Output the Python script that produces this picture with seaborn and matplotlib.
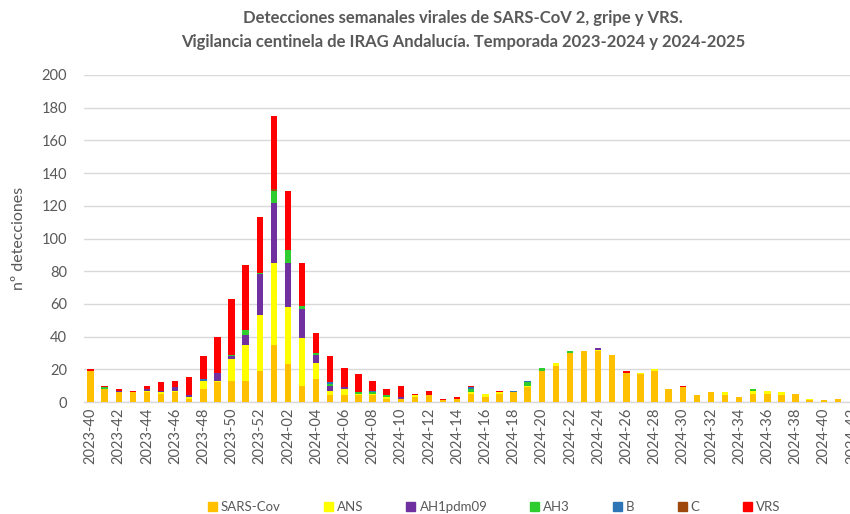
import pandas as pd
import numpy as np
import matplotlib.pyplot as plt
import seaborn as sns

# Weeks shown on the x axis (2023-40 .. 2024-42)
weeks = [f"2023-{w}" for w in range(40, 53)] + [f"2024-{w:02d}" for w in range(1, 43)]

# Weekly detections per virus
sars_cov = [19, 8, 6, 6, 6, 5, 6, 2, 8, 12, 13, 13, 19, 35, 23, 10, 14, 4, 4, 4, 4, 2, 2, 3, 4, 1, 2, 5,
            3, 5, 6, 9, 19, 22, 30, 31, 31, 29, 18, 17, 19, 8, 9, 4, 6, 4, 3, 5, 5, 4, 5, 1, 1, 2, 0]
ans = [0, 0, 0, 0, 1, 1, 1, 1, 5, 1, 13, 22, 34, 50, 35, 29, 10, 3, 4, 1, 1, 1, 0, 1, 0, 0, 0, 1,
       2, 1, 0, 1, 0, 2, 0, 0, 1, 0, 0, 1, 1, 0, 0, 0, 0, 2, 0, 2, 2, 2, 0, 1, 0, 0, 0]
ah1pdm09 = [0, 0, 1, 0, 1, 1, 2, 1, 0, 5, 2, 6, 25, 37, 27, 18, 5, 3, 1, 0, 0, 0, 1, 0, 0, 0, 0, 0,
            0, 0, 0, 0, 0, 0, 0, 0, 1, 0, 0, 0, 0, 0, 0, 0, 0, 0, 0, 0, 0, 0, 0, 0, 0, 0, 0]
ah3 = [0, 1, 0, 0, 0, 0, 0, 0, 0, 0, 1, 3, 1, 7, 8, 2, 1, 1, 0, 1, 1, 1, 0, 0, 0, 0, 0, 2,
       0, 0, 0, 2, 2, 0, 1, 0, 0, 0, 0, 0, 0, 0, 0, 0, 0, 0, 0, 1, 0, 0, 0, 0, 0, 0, 0]
b = [0, 0, 0, 0, 0, 0, 0, 0, 1, 0, 0, 0, 0, 0, 0, 0, 0, 1, 0, 0, 1, 0, 0, 0, 0, 0, 0, 1,
     0, 0, 1, 1, 0, 0, 0, 0, 0, 0, 0, 0, 0, 0, 0, 0, 0, 0, 0, 0, 0, 0, 0, 0, 0, 0, 0]
c = [0, 0, 0, 0, 0, 0, 0, 0, 0, 0, 0, 0, 0, 1, 0, 0, 0, 0, 0, 0, 0, 0, 0, 0, 0, 0, 0, 0,
     0, 0, 0, 0, 0, 0, 0, 0, 0, 0, 0, 0, 0, 0, 0, 0, 0, 0, 0, 0, 0, 0, 0, 0, 0, 0, 0]
vrs = [1, 1, 1, 1, 2, 5, 4, 11, 14, 22, 34, 40, 34, 45, 36, 26, 12, 16, 12, 11, 6, 4, 7, 1, 3, 1, 1, 1,
       0, 1, 0, 0, 0, 0, 0, 0, 0, 0, 1, 0, 0, 0, 1, 0, 0, 0, 0, 0, 0, 0, 0, 0, 0, 0, 0]

series_names = ["SARS-Cov", "ANS", "AH1pdm09", "AH3", "B", "C", "VRS"]
colors = ["#FFC000", "#FFFF00", "#7030A0", "#2ECC2E", "#2E75B6", "#9E480E", "#FF0000"]

df = pd.DataFrame({"week": weeks, "SARS-Cov": sars_cov, "ANS": ans, "AH1pdm09": ah1pdm09,
                   "AH3": ah3, "B": b, "C": c, "VRS": vrs})
# cumulative sums for stacking (bottom -> top)
cum = df[series_names].cumsum(axis=1)

sns.set_theme(style="white")
plt.rcParams['font.family'] = ['Lato', 'DejaVu Sans']
grey = "#595959"

fig = plt.figure(figsize=(8.5, 5.14), dpi=100)
ax = fig.add_axes([83.5 / 850, 1 - 402 / 514, 775.5 / 850, 327 / 514])

# draw tallest cumulative first so lower layers sit on top
for name, col in reversed(list(zip(series_names, colors))):
    sns.barplot(x=df["week"], y=cum[name], color=col, saturation=1, width=0.45,
                errorbar=None, ax=ax, zorder=3, linewidth=0)

ax.set_ylim(0, 200)
ax.set_xlim(-0.5, len(weeks) - 0.5)
ax.set_yticks(range(0, 201, 20))
ax.grid(axis="y", color="#d9d9d9", linewidth=1, zorder=0)
ax.set_axisbelow(True)
for s in ["top", "right", "left"]:
    ax.spines[s].set_visible(False)
ax.spines["bottom"].set_color("#d9d9d9")
ax.spines["bottom"].set_linewidth(1)

ax.set_xticks(range(0, len(weeks), 2))
ax.set_xticklabels(weeks[::2], rotation=90)
ax.tick_params(axis="x", length=0, labelsize=10.5, labelcolor=grey, pad=4)
ax.tick_params(axis="y", length=0, labelsize=10.5, labelcolor=grey, pad=12)
ax.set_xlabel("")
ax.set_ylabel("nº detecciones", fontsize=11.5, color=grey)
ax.yaxis.set_label_coords(-0.074, 0.5)

fig.text(463 / 850, 1 - 18 / 514, "Detecciones semanales virales de SARS-CoV 2, gripe y VRS.",
         ha="center", va="center", fontsize=12, fontweight="bold", color=grey)
fig.text(463 / 850, 1 - 42 / 514, "Vigilancia centinela de IRAG Andalucía. Temporada 2023-2024 y 2024-2025",
         ha="center", va="center", fontsize=12, fontweight="bold", color=grey)

handles = [plt.Rectangle((0, 0), 1, 1, color=col) for col in colors]
fig.legend(handles, series_names, loc="center", bbox_to_anchor=(494 / 850, 1 - 507 / 514), ncol=7,
           frameon=False, fontsize=9.5, handlelength=0.7, handleheight=0.7, handletextpad=0.3,
           columnspacing=3.25, labelcolor=grey)

fig.savefig("out.png", dpi=100)
